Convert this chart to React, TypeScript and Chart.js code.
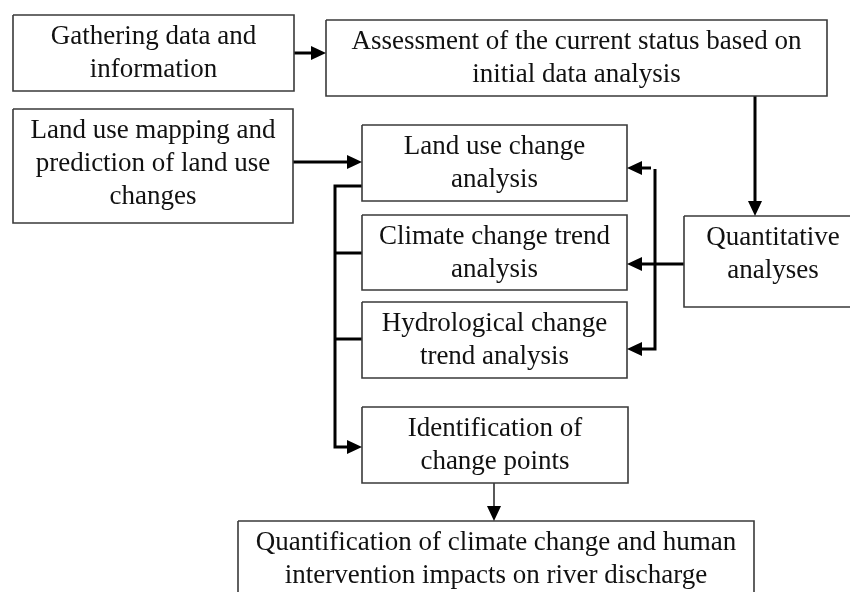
import React, { useEffect, useRef } from "react";
import { Chart, registerables } from "chart.js";

Chart.register(...registerables);

// Flowchart nodes (text lines) and their extents in diagram units
const nodeLabels: string[][] = [
  ["Gathering data and", "information"],
  ["Assessment of the current status based on", "initial data analysis"],
  ["Land use mapping and", "prediction of land use", "changes"],
  ["Land use change", "analysis"],
  ["Climate change trend", "analysis"],
  ["Hydrological change", "trend analysis"],
  ["Quantitative", "analyses"],
  ["Identification of", "change points"],
  ["Quantification of climate change and human", "intervention impacts on river discharge"],
];
const nodeX0 = [13, 326, 13, 362, 362, 362, 684, 362, 238];
const nodeY0 = [15, 20, 109, 125, 215, 302, 216, 407, 521];
const nodeX1 = [294, 827, 293, 627, 627, 627, 862, 628, 754];
const nodeY1 = [91, 96, 223, 201, 290, 378, 307, 483, 600];

// Connectors (polylines); arrow at the last point when flagged
const linkX = [
  [294, 326],
  [755, 755],
  [293, 362],
  [684, 627],
  [651, 627],
  [655, 655, 627],
  [362, 335, 335, 362],
  [335, 362],
  [335, 362],
  [494, 494],
];
const linkY = [
  [53, 53],
  [96, 216],
  [162, 162],
  [264, 264],
  [168, 168],
  [169, 349, 349],
  [186, 186, 447, 447],
  [253, 253],
  [339, 339],
  [483, 521],
];
const linkArrow = [true, true, true, true, true, true, true, false, false, true];
const linkHeavy = [true, true, true, true, true, true, true, true, true, false];

const ARROW_LEN = 15;
const ARROW_HALF = 7;
const FONT = '27px "Liberation Serif", "Times New Roman", serif';
const LINE_H = 33;
const FIRST_BASE = 29;

function buildDatasets() {
  const ds: any[] = [];
  for (let i = 0; i < nodeLabels.length; i++) {
    const x0 = nodeX0[i], x1 = nodeX1[i], y0 = nodeY0[i], y1 = nodeY1[i];
    ds.push({
      data: [
        { x: x0, y: y0 },
        { x: x1, y: y0 },
        { x: x1, y: y1 },
        { x: x0, y: y1 },
        { x: x0, y: y0 },
      ],
      showLine: true,
      borderColor: "#3a3a3a",
      borderWidth: 1.6,
      pointRadius: 0,
      tension: 0,
      borderJoinStyle: "miter",
      fill: false,
    });
  }
  for (let i = 0; i < linkX.length; i++) {
    const pts = linkX[i].map((x, k) => ({ x, y: linkY[i][k] }));
    if (linkArrow[i]) {
      const n = pts.length;
      const a = pts[n - 2], b = pts[n - 1];
      const dx = b.x - a.x, dy = b.y - a.y;
      const len = Math.hypot(dx, dy) || 1;
      pts[n - 1] = { x: b.x - (dx / len) * (ARROW_LEN - 2), y: b.y - (dy / len) * (ARROW_LEN - 2) };
    }
    ds.push({
      data: pts,
      showLine: true,
      borderColor: "#000",
      borderWidth: linkHeavy[i] ? 3 : 1.3,
      pointRadius: 0,
      tension: 0,
      borderCapStyle: "butt",
      borderJoinStyle: "miter",
      fill: false,
    });
  }
  return ds;
}

const flowPlugin = {
  id: "flowText",
  afterDatasetsDraw(chart: any) {
    const ctx = chart.ctx;
    const xs = chart.scales.x;
    const ys = chart.scales.y;
    ctx.save();
    // arrowheads
    ctx.fillStyle = "#000";
    for (let i = 0; i < linkX.length; i++) {
      if (!linkArrow[i]) continue;
      const n = linkX[i].length;
      const ax = xs.getPixelForValue(linkX[i][n - 2]);
      const ay = ys.getPixelForValue(linkY[i][n - 2]);
      const bx = xs.getPixelForValue(linkX[i][n - 1]);
      const by = ys.getPixelForValue(linkY[i][n - 1]);
      const dx = bx - ax, dy = by - ay;
      const len = Math.hypot(dx, dy) || 1;
      const ux = dx / len, uy = dy / len;
      const baseX = bx - ux * ARROW_LEN, baseY = by - uy * ARROW_LEN;
      ctx.beginPath();
      ctx.moveTo(bx, by);
      ctx.lineTo(baseX - uy * ARROW_HALF, baseY + ux * ARROW_HALF);
      ctx.lineTo(baseX + uy * ARROW_HALF, baseY - ux * ARROW_HALF);
      ctx.closePath();
      ctx.fill();
    }
    // labels
    ctx.fillStyle = "#111";
    ctx.font = FONT;
    ctx.textAlign = "center";
    ctx.textBaseline = "alphabetic";
    for (let i = 0; i < nodeLabels.length; i++) {
      const cx = xs.getPixelForValue((nodeX0[i] + nodeX1[i]) / 2);
      const top = ys.getPixelForValue(nodeY0[i]);
      nodeLabels[i].forEach((line, k) => {
        ctx.fillText(line, cx, top + FIRST_BASE + k * LINE_H);
      });
    }
    ctx.restore();
  },
};

export default function App() {
  const ref = useRef<HTMLCanvasElement | null>(null);
  useEffect(() => {
    if (!ref.current) return;
    const chart = new Chart(ref.current, {
      type: "scatter",
      data: { datasets: buildDatasets() },
      options: {
        animation: false,
        responsive: false,
        events: [],
        layout: { padding: 0 },
        plugins: { legend: { display: false }, tooltip: { enabled: false } },
        scales: {
          x: { type: "linear", min: 0, max: 850, display: false },
          y: { type: "linear", min: 0, max: 592, reverse: true, display: false },
        },
      },
      plugins: [flowPlugin],
    });
    return () => chart.destroy();
  }, []);
  return (
    <div style={{ position: "fixed", left: 0, top: 0, width: 850, height: 592, background: "#fff" }}>
      <canvas ref={ref} width={850} height={592} />
    </div>
  );
}
